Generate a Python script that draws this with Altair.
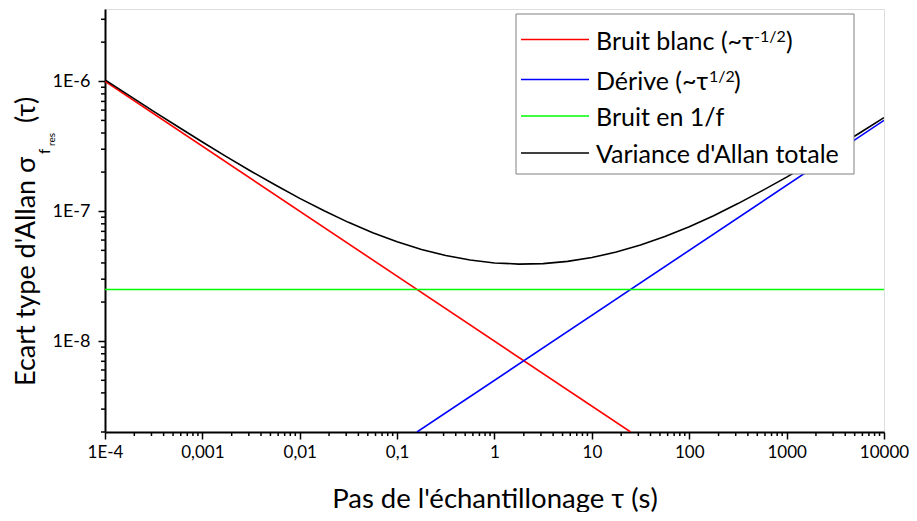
import altair as alt
import pandas as pd

# ---------------- data ----------------
white_tau = [1e-4, 25.0]
white_val = [1.0e-6, 2.0e-9]

drift_tau = [0.16, 1e4]
drift_val = [2.0e-9, 5.0e-7]

flicker_tau = [1e-4, 1e4]
flicker_val = [2.5e-8, 2.5e-8]

total_tau = [1e-4, 1.78e-4, 3.16e-4, 5.62e-4, 1e-3, 1.78e-3, 3.16e-3, 5.62e-3,
             1e-2, 1.78e-2, 3.16e-2, 5.62e-2, 0.1, 0.178, 0.316, 0.562,
             1.0, 1.78, 3.16, 5.62, 10.0, 17.8, 31.6, 56.2,
             100.0, 178.0, 316.0, 562.0, 1000.0, 1780.0, 3160.0, 5620.0, 10000.0]
total_val = [1.025e-6, 7.75e-7, 5.87e-7, 4.47e-7, 3.41e-7, 2.62e-7, 2.03e-7, 1.59e-7,
             1.255e-7, 1.007e-7, 8.21e-8, 6.84e-8, 5.82e-8, 5.08e-8, 4.56e-8, 4.21e-8,
             4.00e-8, 3.92e-8, 3.95e-8, 4.11e-8, 4.40e-8, 4.85e-8, 5.49e-8, 6.38e-8,
             7.60e-8, 9.24e-8, 1.145e-7, 1.44e-7, 1.83e-7, 2.36e-7, 3.06e-7, 4.00e-7, 5.25e-7]

series_colors = ["#ff0000", "#0000ff", "#00ff00", "#000000"]
legend_main = ["Bruit blanc (~τ", "Dérive (~τ", "Bruit en 1/f", "Variance d'Allan totale"]
legend_sup = ["-1/2", "1/2", "", ""]
legend_close = [")", ")", "", ""]

x_ticks = [1e-4, 1e-3, 1e-2, 0.1, 1, 10, 100, 1000, 10000]
x_labels = ["1E-4", "0,001", "0,01", "0,1", "1", "10", "100", "1000", "10000"]
y_ticks = [1e-8, 1e-7, 1e-6]
y_labels = ["1E-8", "1E-7", "1E-6"]

x_title = "Pas de l'échantillonage τ (s)"
y_title_main = "Ecart type d'Allan σ"
y_title_sub = "f"
y_title_subsub = "res"
y_title_end = "(τ)"

X_DOMAIN = [1e-4, 1e4]
Y_DOMAIN = [2e-9, 3.6e-6]

x_minor = [k * 10.0 ** n for n in range(-4, 4) for k in range(2, 10)]
y_minor = [k * 10.0 ** n for n in range(-9, -5) for k in range(2, 10)
           if Y_DOMAIN[0] * 0.999 <= k * 10.0 ** n <= Y_DOMAIN[1]]

# ---------------- layout ----------------
W, H = 779, 423
FONT = "Lato"
TFS = 27.5
YTFS = 27


def label_expr(values, labels):
    expr = f"'{labels[-1]}'"
    for i in range(len(values) - 2, -1, -1):
        mid = (values[i] * values[i + 1]) ** 0.5
        expr = f"datum.value < {mid} ? '{labels[i]}' : ({expr})"
    return expr


xscale = alt.Scale(type="log", domain=X_DOMAIN)
yscale = alt.Scale(type="log", domain=Y_DOMAIN)

x_axis = alt.Axis(values=x_ticks, labelExpr=label_expr(x_ticks, x_labels),
                  title=x_title, titleFont=FONT, titleFontSize=TFS, titleFontWeight="normal",
                  titleColor="black", titleBaseline="alphabetic", titleY=75,
                  labelFont=FONT, labelFontSize=17, labelColor="black", labelPadding=5,
                  tickSize=7, tickWidth=1.5, tickColor="black", domainColor="black",
                  domainWidth=2, grid=False, labelFlush=False, labelOverlap=False)
y_axis = alt.Axis(values=y_ticks, labelExpr=label_expr(y_ticks, y_labels), title=None,
                  labelFont=FONT, labelFontSize=18, labelColor="black", labelPadding=8,
                  tickSize=7, tickWidth=1.5, tickColor="black", domainColor="black",
                  domainWidth=2, grid=False, labelFlush=False, labelOverlap=False)


def curve(taus, vals, color):
    df = pd.DataFrame({"tau": taus, "val": vals})
    return alt.Chart(df).mark_line(color=color, strokeWidth=1.6, clip=True).encode(
        x=alt.X("tau:Q", scale=xscale, axis=x_axis),
        y=alt.Y("val:Q", scale=yscale, axis=y_axis),
    )


layers = [
    curve(white_tau, white_val, series_colors[0]),
    curve(drift_tau, drift_val, series_colors[1]),
    curve(flicker_tau, flicker_val, series_colors[2]),
    curve(total_tau, total_val, series_colors[3]),
]

# minor ticks
layers.append(alt.Chart(pd.DataFrame({"tau": x_minor})).mark_rule(color="black", strokeWidth=1.5).encode(
    x=alt.X("tau:Q", scale=xscale, axis=x_axis), y=alt.value(H), y2=alt.value(H + 4)))
layers.append(alt.Chart(pd.DataFrame({"val": y_minor})).mark_rule(color="black", strokeWidth=1.5).encode(
    y=alt.Y("val:Q", scale=yscale, axis=y_axis), x=alt.value(0), x2=alt.value(-4)))

one = alt.Data(values=[{}])

# legend box
LX0, LX1, LY0, LY1 = 411, 749, 5, 165
layers.append(alt.Chart(one).mark_rect(fill="white", stroke="#808080", strokeWidth=1).encode(
    x=alt.value(LX0), x2=alt.value(LX1), y=alt.value(LY0), y2=alt.value(LY1)))

LFS = 25
row_y = [30.5, 70.5, 107, 144]
sup_x = [649, 604]
close_x = [681, 629]
for i in range(4):
    layers.append(alt.Chart(one).mark_rule(color=series_colors[i], strokeWidth=1.6).encode(
        x=alt.value(416), x2=alt.value(484), y=alt.value(row_y[i]), y2=alt.value(row_y[i])))
    layers.append(alt.Chart(one).mark_text(font=FONT, fontSize=LFS, align="left",
                                           baseline="alphabetic", color="black").encode(
        x=alt.value(491), y=alt.value(row_y[i] + 10), text=alt.value(legend_main[i])))
    if legend_sup[i]:
        layers.append(alt.Chart(one).mark_text(font=FONT, fontSize=16, align="left",
                                               baseline="alphabetic", color="black").encode(
            x=alt.value(sup_x[i]), y=alt.value(row_y[i] + 2), text=alt.value(legend_sup[i])))
        layers.append(alt.Chart(one).mark_text(font=FONT, fontSize=LFS, align="left",
                                               baseline="alphabetic", color="black").encode(
            x=alt.value(close_x[i]), y=alt.value(row_y[i] + 10), text=alt.value(legend_close[i])))

# y title pieces (rotated)
YT_X = -70
layers.append(alt.Chart(one).mark_text(font=FONT, fontSize=YTFS, align="left", angle=270,
                                       baseline="alphabetic", color="black").encode(
    x=alt.value(YT_X), y=alt.value(377), text=alt.value(y_title_main)))
layers.append(alt.Chart(one).mark_text(font=FONT, fontSize=15, align="left", angle=270,
                                       baseline="alphabetic", color="black").encode(
    x=alt.value(-55), y=alt.value(145), text=alt.value(y_title_sub)))
layers.append(alt.Chart(one).mark_text(font=FONT, fontSize=10, align="left", angle=270,
                                       baseline="alphabetic", color="black").encode(
    x=alt.value(-50), y=alt.value(137), text=alt.value(y_title_subsub)))
layers.append(alt.Chart(one).mark_text(font=FONT, fontSize=YTFS, align="left", angle=270,
                                       baseline="alphabetic", color="black").encode(
    x=alt.value(YT_X), y=alt.value(114), text=alt.value(y_title_end)))

chart = alt.layer(*layers).properties(
    width=W, height=H,
    autosize=alt.AutoSizeParams(type="none"),
    padding={"left": 97, "top": 1, "right": 25, "bottom": 80},
).configure_view(stroke="black", strokeWidth=2).configure(background="white")

chart.save("out.html", embed_options={"renderer": "svg", "actions": False})
